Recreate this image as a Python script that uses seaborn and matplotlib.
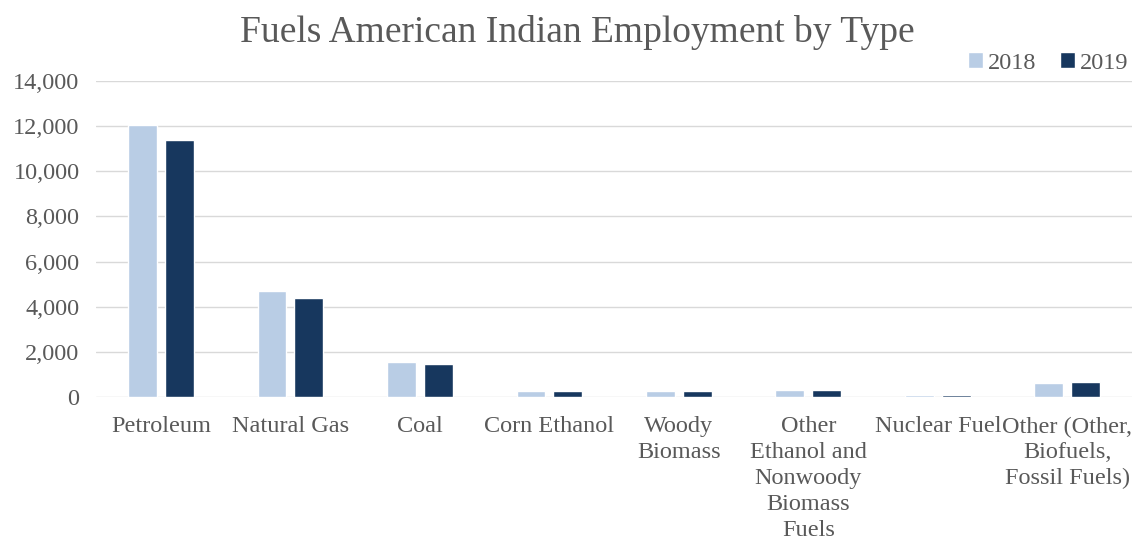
import pandas as pd
import matplotlib.pyplot as plt
import seaborn as sns
from matplotlib.ticker import FuncFormatter

# Data
categories = ["Petroleum", "Natural Gas", "Coal", "Corn Ethanol", "Woody\nBiomass",
              "Other\nEthanol and\nNonwoody\nBiomass\nFuels", "Nuclear Fuel",
              "Other (Other,\nBiofuels,\nFossil Fuels)"]
years = ["2018", "2019"]
values_2018 = [12050, 4710, 1555, 255, 270, 315, 80, 630]
values_2019 = [11380, 4400, 1450, 270, 285, 300, 80, 660]

df = pd.DataFrame({
    "category": categories * 2,
    "year": [years[0]] * len(categories) + [years[1]] * len(categories),
    "employment": values_2018 + values_2019,
})

sns.set_style("white")
plt.rcParams['font.family'] = ['Liberation Serif', 'DejaVu Serif']
text_color = "#595959"

fig = plt.figure(figsize=(11.32, 5.42), dpi=100)
ax = fig.add_axes([0.085, 0.2675, 0.915, 0.5831])

sns.barplot(data=df, x="category", y="employment", hue="year",
            palette=["#B9CDE5", "#17375E"], saturation=1, width=0.57, gap=0.22,
            order=categories, hue_order=years, ax=ax, legend=True)

ax.set_ylim(0, 14000)
ax.set_xlim(-0.5, len(categories) - 0.5)
ax.set_yticks(range(0, 14001, 2000))
ax.yaxis.set_major_formatter(FuncFormatter(lambda v, p: f"{int(v):,}"))
ax.grid(axis="y", color="#D9D9D9", linewidth=1)
ax.set_axisbelow(True)
for s in ["top", "right", "left", "bottom"]:
    ax.spines[s].set_visible(False)
ax.set_xlabel("")
ax.set_ylabel("")
ax.tick_params(axis="both", length=0, labelsize=17.5, labelcolor=text_color)
ax.tick_params(axis="x", pad=14)
ax.tick_params(axis="y", pad=12)
for lbl in ax.get_xticklabels():
    lbl.set_linespacing(1.3)

fig.text(0.51, 0.94, "Fuels American Indian Employment by Type",
         ha="center", va="center", fontsize=27, color=text_color)

leg = ax.legend(loc="lower right", bbox_to_anchor=(1.0, 1.012), ncol=2, frameon=False,
                fontsize=17.5, handlelength=0.6, handleheight=0.6, handletextpad=0.2,
                columnspacing=1.0, borderaxespad=0.05, borderpad=0.1)
for t in leg.get_texts():
    t.set_color(text_color)

fig.savefig("out.png", dpi=100)
